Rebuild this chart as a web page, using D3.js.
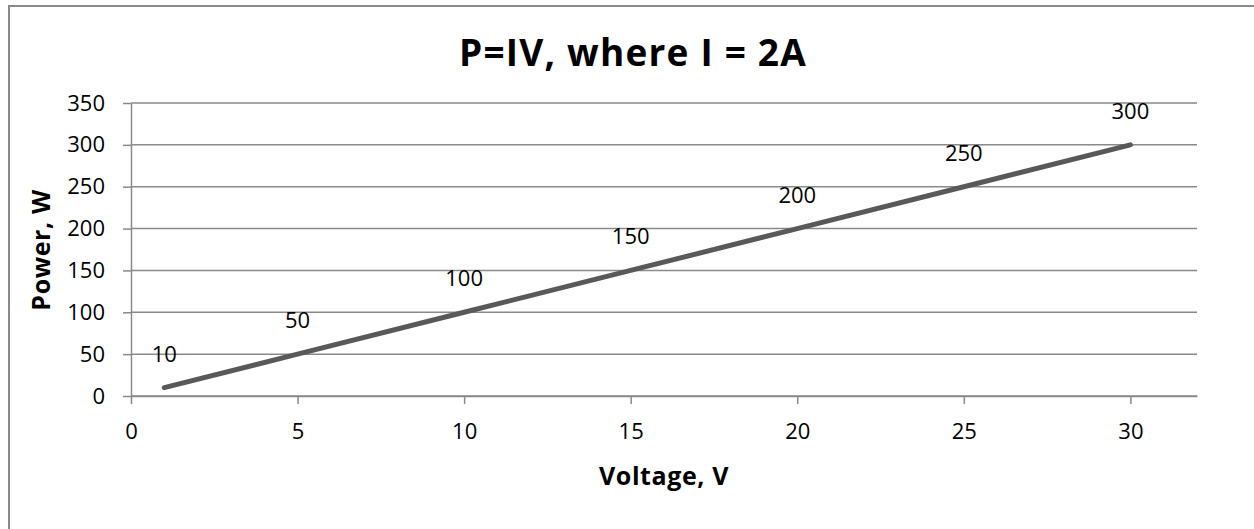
<!DOCTYPE html>
<html>
<head>
<meta charset="utf-8">
<script src="https://cdn.jsdelivr.net/npm/d3@7"></script>
<style>
  body { margin: 0; background: #fff; }
  svg text { font-family: "Open Sans", sans-serif; fill: #000; }
</style>
</head>
<body>
<div class="container"></div>
<script>
const voltage = [1, 5, 10, 15, 20, 25, 30];
const power = [10, 50, 100, 150, 200, 250, 300];
const xTicks = [0, 5, 10, 15, 20, 25, 30];
const yTicks = [0, 50, 100, 150, 200, 250, 300, 350];

const width = 1254;
const height = 529;
const margin = {top: 103, right: 57, bottom: 133, left: 131};
const gridColor = "#8a8a8a";

const svg = d3.select(".container").append("svg").attr("width", width).attr("height", height);

// outer chart border (right and bottom fall outside the picture)
svg.append("rect")
    .attr("x", 9).attr("y", 6)
    .attr("width", 1300).attr("height", 600)
    .attr("fill", "none")
    .attr("stroke", gridColor)
    .attr("stroke-width", 2);

const x = d3.scaleLinear().domain([0, 32]).range([margin.left, width - margin.right]);
const y = d3.scaleLinear().domain([0, 350]).range([height - margin.bottom, margin.top]);

// horizontal gridlines
svg.append("g")
    .selectAll("line")
    .data(yTicks)
    .enter().append("line")
      .attr("x1", x(0)).attr("x2", x(32))
      .attr("y1", d => y(d)).attr("y2", d => y(d))
      .attr("stroke", gridColor)
      .attr("stroke-width", 1.5);

const yAxis = svg.append("g")
    .attr("transform", `translate(${margin.left},0)`)
    .call(d3.axisLeft(y).tickValues(yTicks).tickSize(8).tickPadding(18).tickSizeOuter(0));

const xAxis = svg.append("g")
    .attr("transform", `translate(0,${y(0)})`)
    .call(d3.axisBottom(x).tickValues(xTicks).tickSize(8).tickPadding(19).tickSizeOuter(0));

[xAxis, yAxis].forEach(a => {
  a.selectAll("path.domain").attr("stroke", gridColor).attr("stroke-width", 1.5);
  a.selectAll(".tick line").attr("stroke", gridColor).attr("stroke-width", 1.5);
  a.selectAll(".tick text").attr("font-size", 22).attr("font-family", "Open Sans").attr("fill", "#000");
});

const points = voltage.map((v, i) => ({v: v, p: power[i]}));

svg.append("path")
    .datum(points)
    .attr("fill", "none")
    .attr("stroke", "#595959")
    .attr("stroke-width", 5)
    .attr("stroke-linecap", "round")
    .attr("stroke-linejoin", "round")
    .attr("d", d3.line().x(d => x(d.v)).y(d => y(d.p)));

svg.append("g")
    .selectAll("text")
    .data(points)
    .enter().append("text")
      .attr("x", d => x(d.v))
      .attr("y", d => y(d.p) - 26)
      .attr("text-anchor", "middle")
      .attr("font-size", 22)
      .text(d => d.p);

svg.append("text")
    .attr("x", 633).attr("y", 66)
    .attr("text-anchor", "middle")
    .attr("font-size", 37)
    .attr("font-weight", "bold")
    .attr("letter-spacing", 1.2)
    .text("P=IV, where I = 2A");

svg.append("text")
    .attr("x", 664).attr("y", 485)
    .attr("text-anchor", "middle")
    .attr("font-size", 25)
    .attr("font-weight", "bold")
    .attr("letter-spacing", 0.6)
    .text("Voltage, V");

svg.append("text")
    .attr("transform", "translate(50,250) rotate(-90)")
    .attr("text-anchor", "middle")
    .attr("font-size", 25)
    .attr("font-weight", "bold")
    .attr("letter-spacing", 0.6)
    .text("Power, W");
</script>
</body>
</html>
